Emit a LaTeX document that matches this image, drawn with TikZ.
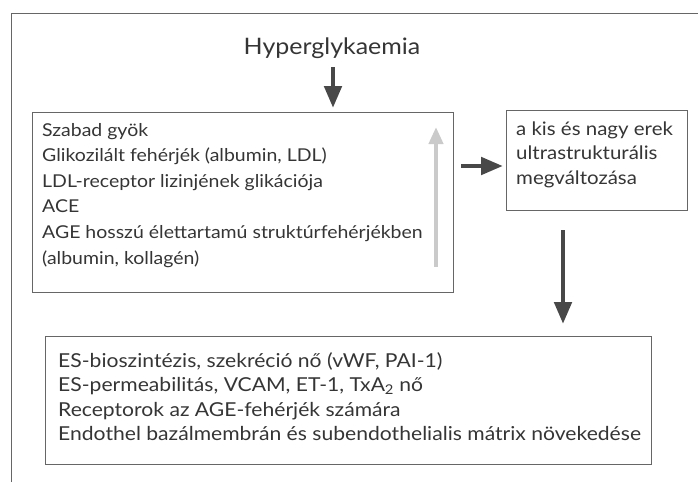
\documentclass[tikz,border=0pt]{standalone}
\usepackage{fontspec}
\setmainfont{Lato}[FakeStretch=1.1]
\usetikzlibrary{arrows.meta}
\definecolor{ink}{HTML}{353535}
\definecolor{linec}{HTML}{666666}
\definecolor{arrowc}{HTML}{484848}
\definecolor{lightarr}{HTML}{CACACA}
\begin{document}
\begin{tikzpicture}[x=1pt,y=-1pt,
  box/.style={draw=linec,line width=0.8pt,inner sep=0pt,anchor=north west},
  txt/.style={text=ink,inner sep=0pt,anchor=base west,font=\fontsize{17.7}{20}\selectfont},
  txtb/.style={txt,font=\fontsize{18.6}{20}\selectfont},
  txtc/.style={txt,font=\fontsize{19.2}{20}\selectfont},
  bigarrow/.style={draw=arrowc,line width=4.8pt,-{Triangle[width=17pt,length=22pt]}},
  grayarrow/.style={draw=lightarr,line width=4pt,-{Triangle[width=14pt,length=17pt]}}]
\useasboundingbox (0,0) rectangle (698,482);
% outer frame
\draw[linec,line width=0.8pt] (11,482) -- (11,13) -- (698,13);
% title
\node[txt,anchor=base,font=\fontsize{22.7}{26}\selectfont] (hyp) at (332,54) {Hyperglykaemia};
% boxes
\node[box,minimum width=421pt,minimum height=180pt] (b1) at (32,112) {};
\node[box,minimum width=181pt,minimum height=100pt] (b2) at (506,110) {};
\node[box,minimum width=606pt,minimum height=128pt] (b3) at (45,336) {};
% box 1 text
\foreach \t [count=\i] in {Szabad gyök,Glikozilált fehérjék (albumin{,} LDL),LDL-receptor lizinjének glikációja,ACE,AGE hosszú élettartamú struktúrfehérjékben,(albumin{,} kollagén)}
  \node[txt] (l1-\i) at (42,{136+25.6*(\i-1)}) {\t};
% box 2 text
\foreach \t [count=\i] in {a kis és nagy erek,ultrastrukturális,megváltozása}
  \node[txtb] (l2-\i) at (516,{135+24.5*(\i-1)}) {\t};
% box 3 text
\node[txtc] (l3-1) at (58,367) {ES-bioszintézis, szekréció nő (vWF, PAI-1)};
\node[txtc] (l3-2) at (58,391.5) {ES-permeabilitás, VCAM, ET-1, TxA\textsubscript{2} nő};
\node[txtc] (l3-3) at (58,416) {Receptorok az AGE-fehérjék számára};
\node[txtc] (l3-4) at (58,440.5) {Endothel bazálmembrán és subendothelialis mátrix növekedése};
% arrows
\coordinate (a1) at (333,67);
\draw[bigarrow,shorten >=4pt] (a1) -- (a1 |- b1.north);
\coordinate (a2) at (461,166);
\draw[bigarrow,shorten >=3pt] (a2) -- (a2 -| b2.west);
\coordinate (a3) at (563,230);
\draw[bigarrow,shorten >=12pt] (a3) -- (a3 |- b3.north);
\coordinate (g1) at (436,267);
\coordinate (g2) at (436,127);
\draw[grayarrow] (g1) -- (g2);
\end{tikzpicture}
\end{document}
